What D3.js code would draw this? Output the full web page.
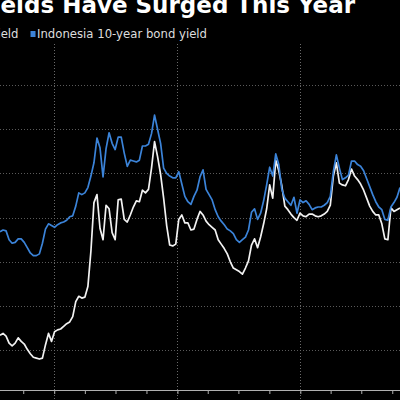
<!DOCTYPE html>
<html>
<head>
<meta charset="utf-8">
<script src="https://cdnjs.cloudflare.com/ajax/libs/d3/7.8.5/d3.min.js"></script>
<style>
  body { margin: 0; background: #000; overflow: hidden; }
  svg { display: block; background: #000; }
</style>
</head>
<body>
<div id="chart"></div>
<script>
// data, one value every 9 days
var startDate = "2015-07-24";
var stepDays = 9;

var otherYield = [6.17, 6.19, 6.16, 6.08, 6.05, 6.08, 6.14, 6.10, 6.07, 6.01,
    5.96, 5.92, 5.91, 5.90, 5.91, 6.06, 6.19, 6.10, 6.21, 6.23,
    6.24, 6.27, 6.30, 6.32, 6.38, 6.55, 6.61, 6.59, 6.60, 6.72,
    7.12, 7.67, 7.76, 7.38, 7.25, 7.64, 7.60, 7.33, 7.25, 7.70,
    7.71, 7.48, 7.45, 7.53, 7.62, 7.69, 7.68, 7.81, 7.78, 7.82,
    8.06, 8.36, 8.19, 7.99, 7.72, 7.41, 7.19, 7.18, 7.20, 7.48,
    7.53, 7.44, 7.44, 7.36, 7.37, 7.48, 7.57, 7.53, 7.46, 7.42,
    7.39, 7.36, 7.25, 7.20, 7.15, 7.09, 7.00, 6.93, 6.91, 6.89,
    6.86, 6.93, 7.01, 7.19, 7.26, 7.16, 7.28, 7.43, 7.60, 7.87,
    7.72, 8.15, 8.03, 7.86, 7.63, 7.59, 7.54, 7.50, 7.47, 7.55,
    7.52, 7.51, 7.54, 7.54, 7.52, 7.51, 7.52, 7.54, 7.57, 7.64,
    7.97, 8.12, 7.89, 7.87, 7.86, 7.93, 8.05, 7.97, 7.93, 7.88,
    7.81, 7.72, 7.63, 7.57, 7.53, 7.53, 7.43, 7.26, 7.25, 7.61,
    7.57, 7.59, 7.61];

var indonesiaYield = [7.34, 7.36, 7.35, 7.25, 7.21, 7.22, 7.26, 7.26, 7.22, 7.16,
    7.10, 7.07, 7.07, 7.09, 7.21, 7.37, 7.43, 7.41, 7.39, 7.42,
    7.44, 7.45, 7.47, 7.51, 7.52, 7.63, 7.78, 7.76, 7.78, 7.84,
    7.97, 8.12, 8.40, 8.29, 7.96, 8.28, 8.46, 8.34, 8.27, 8.41,
    8.41, 8.23, 8.08, 8.15, 8.14, 8.13, 8.15, 8.31, 8.31, 8.33,
    8.45, 8.66, 8.50, 8.34, 8.06, 8.00, 7.97, 7.95, 7.95, 8.02,
    7.88, 7.74, 7.68, 7.65, 7.74, 7.81, 7.96, 8.04, 7.82, 7.76,
    7.70, 7.59, 7.51, 7.46, 7.42, 7.37, 7.35, 7.32, 7.25, 7.22,
    7.25, 7.28, 7.36, 7.56, 7.60, 7.48, 7.55, 7.69, 7.87, 8.07,
    7.97, 8.22, 8.10, 7.82, 7.72, 7.68, 7.64, 7.73, 7.55, 7.70,
    7.67, 7.69, 7.65, 7.59, 7.61, 7.62, 7.62, 7.64, 7.67, 7.74,
    8.02, 8.21, 8.06, 7.93, 7.95, 7.98, 8.14, 8.14, 8.10, 8.08,
    8.03, 7.94, 7.85, 7.76, 7.68, 7.62, 7.59, 7.48, 7.47, 7.62,
    7.67, 7.73, 7.84];

var seriesNames = ["Philippines 10-year bond yield", "Indonesia 10-year bond yield"];
var seriesColors = ["#f2f2f2", "#3b83d8"];
var gridValues = [6, 6.5, 7, 7.5, 8, 8.5, 9];
var titleText = "Indonesian Bond Yields Have Surged This Year";

function drawLineChart(config) {
    var width = 400,
        height = 400,
        axisY = 390,
        plotTop = 44;

    var svg = d3.select(config.mainDiv).append("svg")
        .attr("width", width)
        .attr("height", height);

    var parse = d3.timeParse("%Y-%m-%d");
    var start = parse(config.startDate);
    var n = config.series[0].length;
    var dates = d3.range(n).map(function(i) {
        return d3.timeDay.offset(start, i * config.stepDays);
    });

    var x = d3.scaleTime()
        .domain([start, dates[n - 1]])
        .range([0, width]);

    var y = d3.scaleLinear()
        .domain([5.55, 9.43])
        .range([axisY, 47]);

    // horizontal dotted grid
    svg.append("g").selectAll("line")
        .data(config.grid)
        .enter().append("line")
        .attr("x1", 0)
        .attr("x2", width)
        .attr("y1", function(d) { return Math.round(y(d)) + 0.5; })
        .attr("y2", function(d) { return Math.round(y(d)) + 0.5; })
        .attr("stroke", "#5a5a5a")
        .attr("stroke-dasharray", "1,2");

    // year separators
    var years = d3.timeYear.range(start, dates[n - 1]);
    svg.append("g").selectAll("line")
        .data(years)
        .enter().append("line")
        .attr("x1", function(d) { return Math.round(x(d)) + 0.5; })
        .attr("x2", function(d) { return Math.round(x(d)) + 0.5; })
        .attr("y1", plotTop)
        .attr("y2", height)
        .attr("stroke", "#6a6a6a")
        .attr("stroke-dasharray", "1,2");

    // bottom axis
    var xAxis = d3.axisBottom(x)
        .ticks(d3.timeMonth.every(3))
        .tickSize(4)
        .tickFormat("");
    var axisG = svg.append("g")
        .attr("transform", "translate(0," + axisY + ")")
        .call(xAxis);
    axisG.select(".domain").attr("stroke", "#b0b0b0").attr("d", "M0,0.5H" + width);
    axisG.selectAll(".tick line").attr("stroke", "#b0b0b0");

    var line = d3.line()
        .x(function(d, i) { return x(dates[i]); })
        .y(function(d) { return y(d); });

    svg.append("g").selectAll("path")
        .data(config.series)
        .enter().append("path")
        .attr("d", line)
        .attr("fill", "none")
        .attr("stroke", function(d, i) { return config.colors[i]; })
        .attr("stroke-width", 1.7)
        .attr("stroke-linejoin", "round");

    // title, cropped on the left like the source
    svg.append("text")
        .attr("x", 355)
        .attr("y", 13)
        .attr("text-anchor", "end")
        .attr("fill", "#ffffff")
        .style("font-family", "'DejaVu Sans', sans-serif")
        .style("font-weight", "bold")
        .style("font-size", "23px")
        .text(config.title);

    // legend
    var legend = svg.append("g")
        .style("font-family", "'DejaVu Sans', sans-serif")
        .style("font-size", "11.7px");
    var t0 = legend.append("text")
        .attr("x", 18.5)
        .attr("y", 37.5)
        .attr("text-anchor", "end")
        .attr("fill", "#dddddd")
        .text(config.names[0]);
    var w0 = t0.node().getComputedTextLength();
    legend.append("rect")
        .attr("x", 18.5 - w0 - 9)
        .attr("y", 31)
        .attr("width", 6)
        .attr("height", 6)
        .attr("fill", config.colors[0]);
    legend.append("rect")
        .attr("x", 30.5)
        .attr("y", 31)
        .attr("width", 5)
        .attr("height", 6)
        .attr("fill", config.colors[1]);
    legend.append("text")
        .attr("x", 37)
        .attr("y", 37.5)
        .attr("fill", "#dddddd")
        .text(config.names[1]);
}

drawLineChart({
    mainDiv: "#chart",
    startDate: startDate,
    stepDays: stepDays,
    series: [otherYield, indonesiaYield],
    names: seriesNames,
    colors: seriesColors,
    grid: gridValues,
    title: titleText
});
</script>
</body>
</html>
